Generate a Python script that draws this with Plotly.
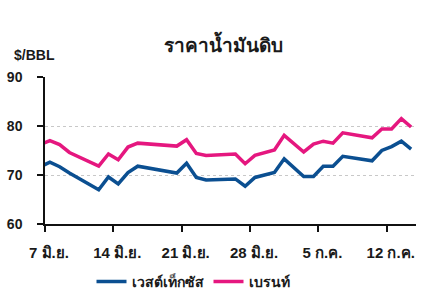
import plotly.graph_objects as go

dates = ["2023-06-06", "2023-06-07", "2023-06-08", "2023-06-09", "2023-06-12", "2023-06-13",
         "2023-06-14", "2023-06-15", "2023-06-16", "2023-06-20", "2023-06-21", "2023-06-22",
         "2023-06-23", "2023-06-26", "2023-06-27", "2023-06-28", "2023-06-30", "2023-07-01",
         "2023-07-03", "2023-07-04", "2023-07-05", "2023-07-06", "2023-07-07", "2023-07-10",
         "2023-07-11", "2023-07-12", "2023-07-13", "2023-07-14"]
wti = [71.7, 72.6, 71.7, 70.4, 67.0, 69.6, 68.2, 70.5, 71.8, 70.4, 72.4, 69.5,
       69.0, 69.2, 67.7, 69.5, 70.5, 73.3, 69.7, 69.7, 71.8, 71.8, 73.8, 72.9,
       75.0, 75.8, 76.9, 75.3]
brent = [76.2, 77.0, 76.2, 74.6, 71.8, 74.3, 73.1, 75.7, 76.5, 75.9, 77.2, 74.4,
         74.0, 74.3, 72.3, 74.0, 75.1, 78.1, 74.7, 76.3, 76.9, 76.5, 78.6, 77.6,
         79.4, 79.4, 81.5, 79.8]
tick_dates = ["2023-06-07", "2023-06-14", "2023-06-21", "2023-06-28", "2023-07-05", "2023-07-12"]
tick_text = ["7 มิ.ย.", "14 มิ.ย.", "21 มิ.ย.", "28 มิ.ย.", "5 ก.ค.", "12 ก.ค."]
y_ticks = [60, 70, 80, 90]

x_noon = [d + " 12:00" for d in dates]
font_family = "Liberation Sans, Arial, Noto Sans, sans-serif"
txt = "#1a1a1a"

L, R, T, B = 45, 10, 77, 78
pw, ph = 426 - L - R, 302 - T - B

def px(x):
    return (x - L) / pw

def py(y):
    return (302 - B - y) / ph

fig = go.Figure()
fig.add_trace(go.Scatter(x=x_noon, y=wti, mode="lines", name="เวสต์เท็กซัส",
                         line=dict(color="#0b4f91", width=3.5)))
fig.add_trace(go.Scatter(x=x_noon, y=brent, mode="lines", name="เบรนท์",
                         line=dict(color="#e5177f", width=3.5)))

fig.update_layout(
    width=426, height=302,
    margin=dict(l=L, r=R, t=T, b=B, autoexpand=False),
    paper_bgcolor="white", plot_bgcolor="white",
    font=dict(family=font_family, color=txt, size=13),
    showlegend=True,
    legend=dict(orientation="h", x=px(193), xanchor="center", y=py(282), yanchor="middle",
                font=dict(size=14, color=txt, weight="bold"),
                itemwidth=30, tracegroupgap=0),
    annotations=[
        dict(text="<b>ราคาน้ำมันดิบ</b>", x=px(223), y=py(44), xref="paper", yref="paper",
             xanchor="center", yanchor="middle", showarrow=False, font=dict(size=19, color=txt)),
        dict(text="<b>$/BBL</b>", x=px(12), y=py(55), xref="paper", yref="paper",
             xanchor="left", yanchor="middle", showarrow=False, font=dict(size=14, color=txt)),
    ],
)

fig.update_xaxes(
    type="date", range=["2023-06-07", "2023-07-15"],
    tickvals=tick_dates, ticktext=tick_text, automargin=False,
    showline=True, linecolor="#111111", linewidth=1.5,
    ticks="outside", ticklen=6, tickcolor="#111111", tickwidth=1.5,
    showgrid=False, zeroline=False,
    tickfont=dict(size=15, color=txt, weight="bold"),
    ticklabelshift=4, ticklabelstandoff=8,
)
fig.update_yaxes(
    range=[60, 90], tickvals=y_ticks, automargin=False,
    showline=True, linecolor="#111111", linewidth=1.5,
    ticks="outside", ticklen=6, tickcolor="#111111", tickwidth=1.5,
    showgrid=True, gridcolor="#c8c8c8", griddash="dot", gridwidth=1,
    zeroline=False,
    tickfont=dict(size=14, color=txt, weight="bold"),
    ticklabelstandoff=12,
)

fig.write_html("out.html")
